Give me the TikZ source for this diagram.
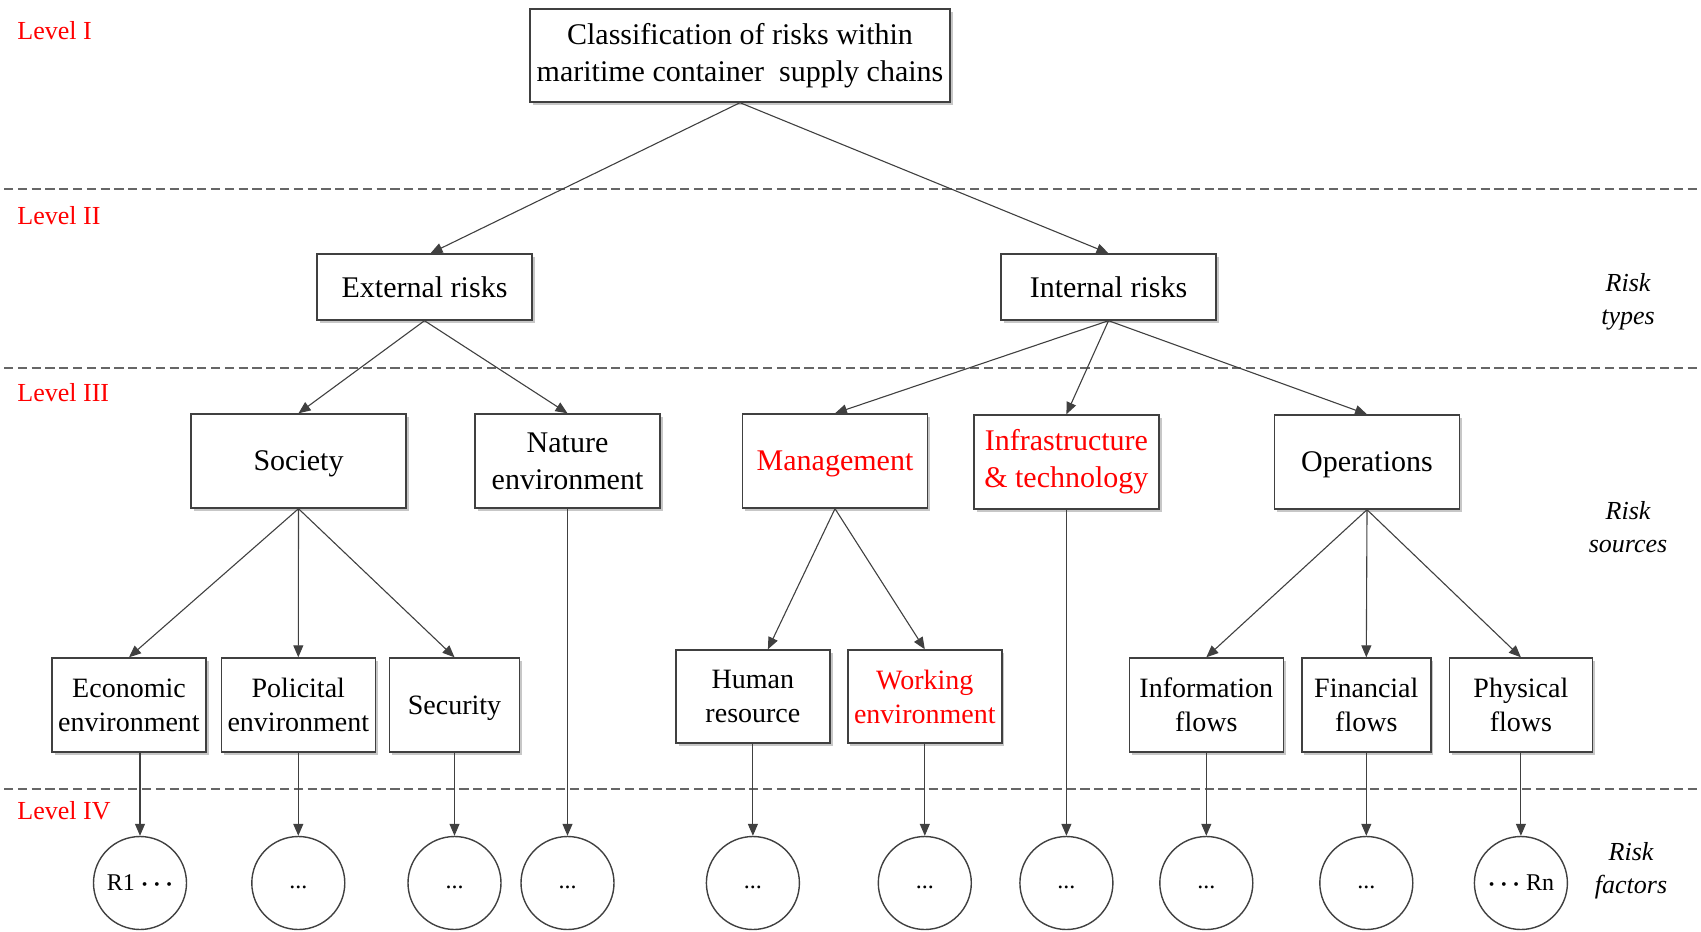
\documentclass[tikz,border=0pt]{standalone}
\usepackage{fontspec}
\setmainfont{Liberation Serif}
\usetikzlibrary{arrows.meta,shadows,calc}
\definecolor{lvlred}{RGB}{255,0,0}
\definecolor{linegray}{RGB}{64,64,64}
\newcommand{\riskdots}{{\boldmath$\cdots$}}

\begin{document}
\begin{tikzpicture}[x=0.5pt,y=-0.5pt,
  box/.style={draw=linegray, line width=0.7pt, fill=white, align=center, inner sep=1pt,
    drop shadow={shadow xshift=1.3pt, shadow yshift=-1.3pt, fill=black!22, opacity=1}},
  big/.style={font=\fontsize{15}{18.5}\selectfont},
  small/.style={font=\fontsize{14}{17}\selectfont},
  oneline/.style={text depth=0pt},
  leaf/.style={draw=linegray, line width=0.7pt, circle, minimum size=46.5pt, inner sep=0pt,
    font=\fontsize{12}{14}\selectfont},
  dots/.style={text height=5pt, text depth=0pt},
  arr/.style={draw=linegray, line width=0.55pt, -{Triangle[length=6pt,width=5pt]}},
  sep/.style={draw=black!60, line width=0.6pt, dash pattern=on 4.6pt off 2.3pt},
  lvl/.style={anchor=west, text=lvlred, font=\fontsize{13}{15}\selectfont, inner sep=0pt},
  tag/.style={align=center, font=\itshape\fontsize{13}{16.5}\selectfont}
]
\useasboundingbox (0,0) rectangle (1701,931);

% level separators
\draw[sep] (4,189) -- (1701,189);
\draw[sep] (4,368) -- (1701,368);
\draw[sep] (4,789) -- (1701,789);

% level labels
\node[lvl] (l1) at (17,31)  {Level I};
\node[lvl] (l2) at (17,216) {Level II};
\node[lvl] (l3) at (17,393) {Level III};
\node[lvl] (l4) at (17,811) {Level IV};

% right-hand tags
\node[tag] (t1) at (1628,302) {Risk\\types};
\node[tag] (t2) at (1628,527) {Risk\\sources};
\node[tag] (t3) at (1631,871) {Risk\\factors};

% level I
\node[box,big,minimum width=210pt,minimum height=46.5pt] (top) at (740,55.5)
  {Classification of risks within\\maritime container\ \ supply chains};

% level II
\node[box,big,oneline,minimum width=107.5pt,minimum height=33pt] (ext) at (424.5,287) {External risks};
\node[box,big,oneline,minimum width=107.5pt,minimum height=33pt] (int) at (1108.5,287) {Internal risks};

% level III (sources)
\node[box,big,oneline,minimum width=107.5pt,minimum height=47pt] (soc) at (298.5,461) {Society};
\node[box,big,minimum width=92.5pt,minimum height=47pt] (nat) at (567.5,461) {Nature\\environment};
\node[box,big,oneline,minimum width=92.5pt,minimum height=47pt,text=lvlred] (mgmt) at (835,461) {Management};
\node[box,big,minimum width=92.5pt,minimum height=47pt,text=lvlred] (infra) at (1066.4,462) {Infrastructure\\\& technology};
\node[box,big,oneline,minimum width=92.5pt,minimum height=47pt] (ops) at (1367,462) {Operations};

% level III (sub-sources)
\node[box,small,minimum width=77pt,minimum height=47pt] (eco) at (129,705) {Economic\\environment};
\node[box,small,minimum width=77pt,minimum height=47pt] (pol) at (298.3,705) {Policital\\environment};
\node[box,small,oneline,minimum width=65pt,minimum height=47pt] (sec) at (454.5,705) {Security};
\node[box,small,minimum width=77pt,minimum height=46.5pt] (hr) at (752.9,696.5) {Human\\resource};
\node[box,small,minimum width=77pt,minimum height=46.5pt,text=lvlred] (we) at (924.8,696.5) {Working\\environment};
\node[box,small,minimum width=77pt,minimum height=47pt] (inf) at (1206.3,705) {Information\\flows};
\node[box,small,minimum width=64.5pt,minimum height=47pt] (fin) at (1366.3,705) {Financial\\flows};
\node[box,small,minimum width=71.5pt,minimum height=47pt] (phy) at (1520.9,705) {Physical\\flows};

% level IV (risk factors)
\node[leaf] (c1)  at (140,883)         {R1 \riskdots};
\node[leaf,dots] (c2)  at (298.3,883)  {...};
\node[leaf,dots] (c3)  at (454.5,883)  {...};
\node[leaf,dots] (c4)  at (567.5,883)  {...};
\node[leaf,dots] (c5)  at (752.9,883)  {...};
\node[leaf,dots] (c6)  at (924.8,883)  {...};
\node[leaf,dots] (c7)  at (1066.4,883) {...};
\node[leaf,dots] (c8)  at (1206.3,883) {...};
\node[leaf,dots] (c9)  at (1366.3,883) {...};
\node[leaf] (c10) at (1520.9,883)      {\riskdots{} Rn};

% connectors
\draw[arr] (top.south) -- ([xshift=3pt]ext.north);
\draw[arr] (top.south) -- (int.north);
\draw[arr] (ext.south) -- (soc.north);
\draw[arr] (ext.south) -- (nat.north);
\draw[arr] (int.south) -- (mgmt.north);
\draw[arr] (int.south) -- (infra.north);
\draw[arr] (int.south) -- (ops.north);
\draw[arr] (soc.south) -- (eco.north);
\draw[arr] (soc.south) -- (pol.north);
\draw[arr] (soc.south) -- (sec.north);
\draw[arr] (mgmt.south) -- ([xshift=7.5pt]hr.north);
\draw[arr] (mgmt.south) -- (we.north);
\draw[arr] (ops.south) -- (inf.north);
\draw[arr] (ops.south) -- (fin.north);
\draw[arr] (ops.south) -- (phy.north);

\draw[arr] (c1 |- eco.south) -- (c1.north);
\draw[arr] (pol.south) -- (c2.north);
\draw[arr] (sec.south) -- (c3.north);
\draw[arr] (nat.south) -- (c4.north);
\draw[arr] (hr.south) -- (c5.north);
\draw[arr] (we.south) -- (c6.north);
\draw[arr] (infra.south) -- (c7.north);
\draw[arr] (inf.south) -- (c8.north);
\draw[arr] (fin.south) -- (c9.north);
\draw[arr] (phy.south) -- (c10.north);
\end{tikzpicture}
\end{document}
